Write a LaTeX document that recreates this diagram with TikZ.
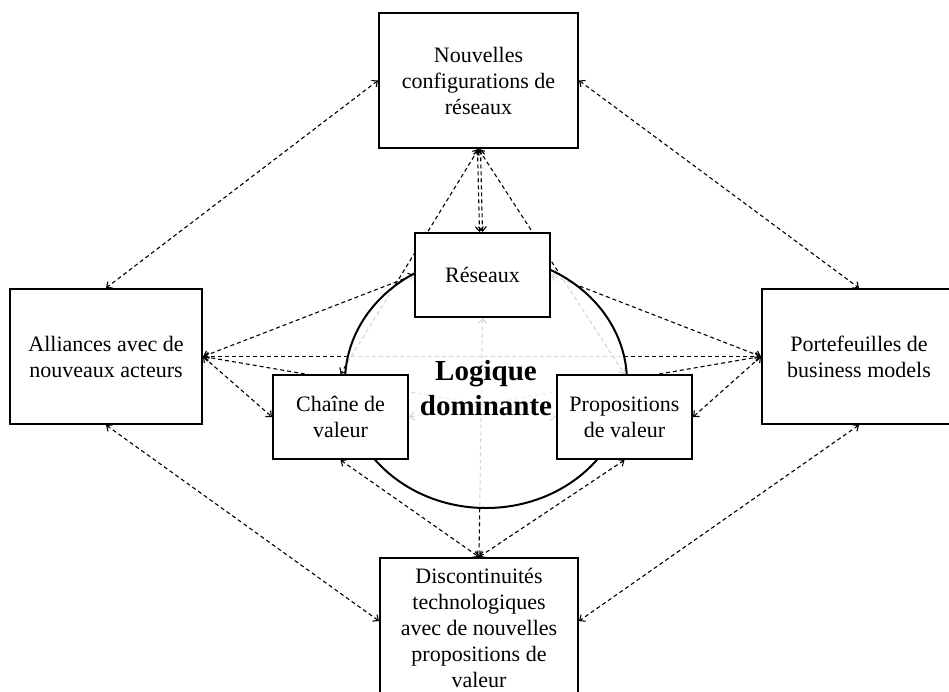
\documentclass[tikz,border=0pt]{standalone}
\usepackage{fontspec}
\setmainfont{Liberation Serif}
\usetikzlibrary{arrows.meta,calc}
\pgfdeclarelayer{links}
\pgfdeclarelayer{halo}
\pgfsetlayers{links,halo,main}

\begin{document}
\begin{tikzpicture}[x=1pt,y=-1pt,
  box/.style={draw, line width=2pt, fill=white, inner sep=0pt, align=center,
    font=\fontsize{22}{26}\selectfont},
  link/.style={line width=1.1pt, dash pattern=on 4pt off 3pt,
    {Straight Barb[length=4.5pt,width=8pt]}-{Straight Barb[length=4.5pt,width=8pt]}},
]
\clip (0,0) rectangle (949,691);
\useasboundingbox (0,0) rectangle (949,691);

% outer ring of boxes
\node[box, minimum width=199pt, minimum height=135pt] (top) at (478.5,80.5)
  {Nouvelles\\configurations de\\réseaux};
\node[box, minimum width=192pt, minimum height=135pt] (alli) at (106,356.5)
  {Alliances avec de\\nouveaux acteurs};
\node[box, minimum width=194pt, minimum height=135pt] (port) at (859,356.5)
  {Portefeuilles de\\business models};
\node[box, minimum width=198pt, minimum height=140pt] (disc) at (479,628)
  {Discontinuités\\technologiques\\avec de nouvelles\\propositions de\\valeur};

% inner boxes
\node[box, minimum width=135pt, minimum height=84pt] (res) at (482.5,275) {Réseaux};
\node[box, minimum width=135pt, minimum height=84pt] (ch) at (340.5,417) {Chaîne de\\valeur};
\node[box, minimum width=135pt, minimum height=84pt] (prop) at (624.5,417) {Propositions\\de valeur};

% central ellipse
\begin{pgfonlayer}{halo}
  \draw[line width=2pt, fill=white, fill opacity=0.84] (486,382) ellipse [x radius=141, y radius=126];
\end{pgfonlayer}
\node[font=\bfseries\fontsize{29}{35}\selectfont, align=center, inner sep=2pt,
  fill=white, fill opacity=0.6, text opacity=1] (logic) at (486,388) {Logique\\dominante};

% dashed two-way links
\coordinate (discL) at ($(disc.north west)+(0,64)$);
\coordinate (discR) at ($(disc.north east)+(0,64)$);
\begin{pgfonlayer}{links}
  \draw[link] (top.west) -- (alli.north);
  \draw[link] (top.east) -- (port.north);
  \draw[link] (alli.south) -- (discL);
  \draw[link] (port.south) -- (discR);

  \draw[link] ($(top.south)+(-1,0)$) -- ($(res.north)+(-3,0)$);
  \draw[link] ($(top.south)+(2,0)$) -- ($(res.north)+(0,0)$);
  \draw[link] (top.south) -- (ch.north);
  \draw[link] (top.south) -- (prop.north);

  \draw[link] (alli.east) -- (res.west);
  \draw[link] (alli.east) -- (port.west);
  \draw[link] (alli.east) -- (prop.west);
  \draw[link] (alli.east) -- (ch.west);

  \draw[link] (port.west) -- (res.east);
  \draw[link] (port.west) -- (ch.east);
  \draw[link] (port.west) -- (prop.east);

  \draw[link] (ch.south) -- (disc.north);
  \draw[link] (prop.south) -- (disc.north);
  \draw[link] (res.south) -- (disc.north);
\end{pgfonlayer}
\end{tikzpicture}
\end{document}
